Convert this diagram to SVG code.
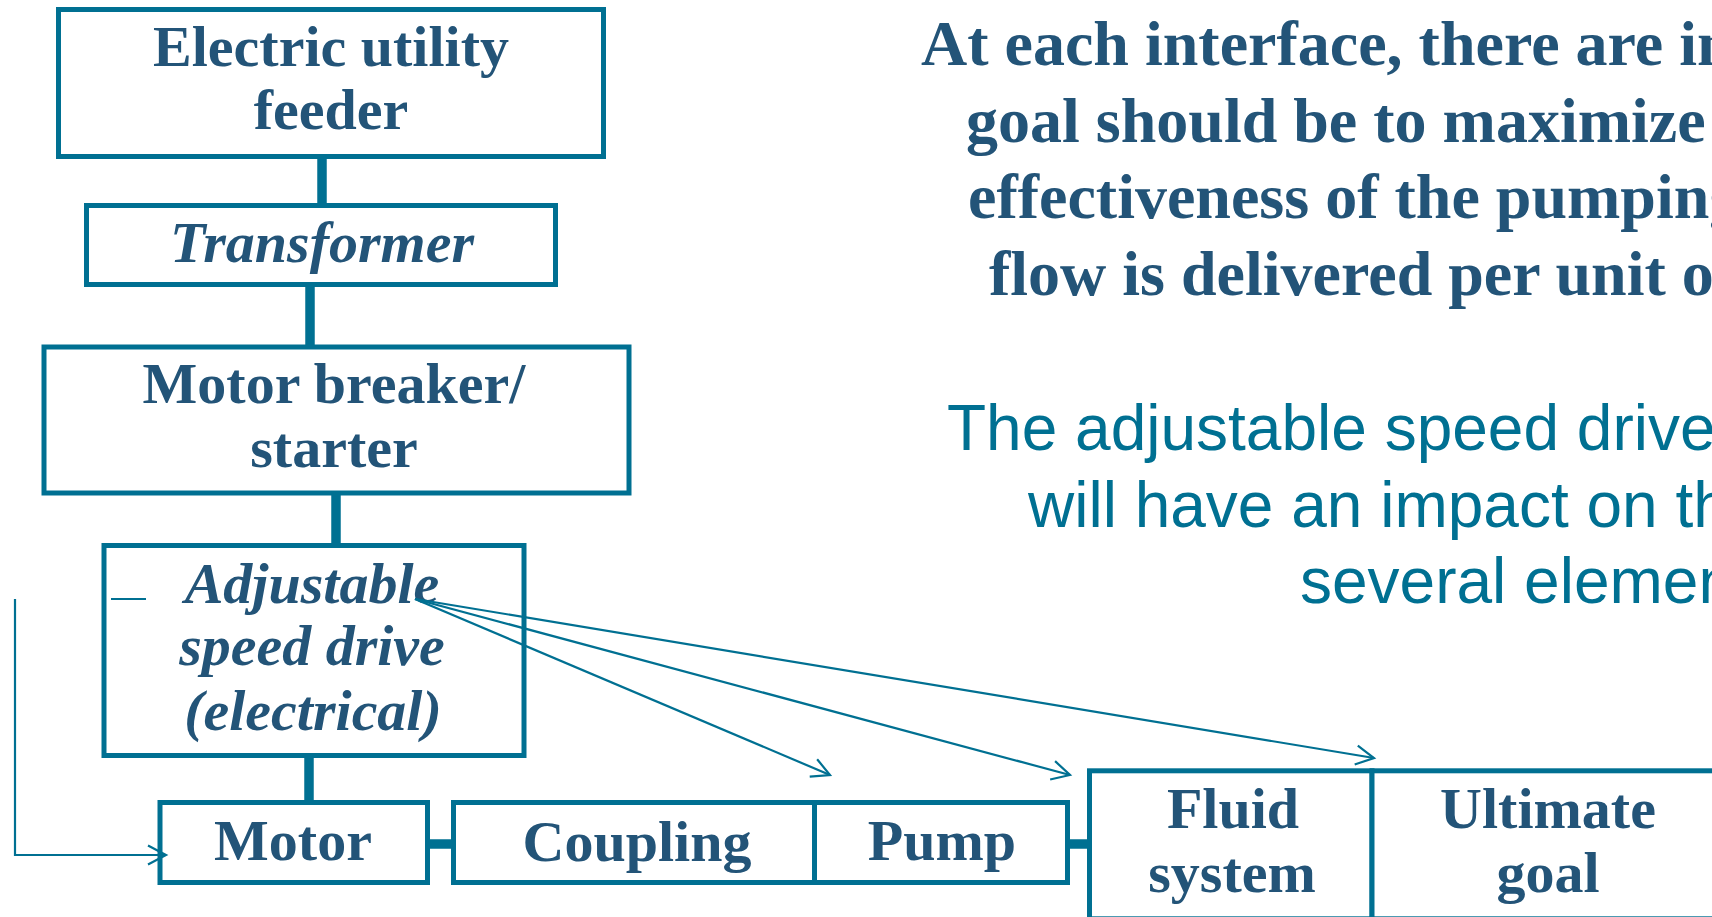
<svg xmlns="http://www.w3.org/2000/svg" width="1712" height="917" viewBox="0 0 1712 917">
  <style>
    .box { fill: #ffffff; stroke: #007092; stroke-width: 5; }
    .bar { stroke: #007092; stroke-width: 9.5; fill: none; }
    .thin { stroke: #007092; stroke-width: 2.2; fill: none; }
    .lbl { font-family: "Liberation Serif", "Times New Roman", serif; font-weight: bold; font-size: 58px; fill: #235478; text-anchor: middle; }
    .it { font-style: italic; }
    .note { font-family: "Liberation Serif", "Times New Roman", serif; font-weight: bold; font-size: 64px; fill: #235478; }
    .note2 { font-family: "Liberation Sans", Arial, sans-serif; font-size: 64px; fill: #007092; }
  </style>
  <defs>
    <marker id="open-arrow" markerUnits="userSpaceOnUse" markerWidth="26" markerHeight="26" viewBox="-23 -13 26 26" refX="0" refY="0" orient="auto">
      <path d="M-18,-9.5 L0,0 L-18,9.5" fill="none" stroke="#007092" stroke-width="2.2"/>
    </marker>
  </defs>

  <rect width="1712" height="917" fill="#ffffff"/>

  <g id="node-feeder">
    <rect class="box" x="58.5" y="9.5" width="545" height="147"/>
    <text class="lbl" x="331" y="66">Electric utility</text>
    <text class="lbl" x="331" y="129">feeder</text>
  </g>

  <g id="node-transformer">
    <rect class="box" x="86.5" y="205.5" width="469" height="79"/>
    <text class="lbl it" x="322" y="262">Transformer</text>
  </g>

  <g id="node-breaker">
    <rect class="box" x="44" y="347" width="585" height="146"/>
    <text class="lbl" x="334" y="403">Motor breaker/</text>
    <text class="lbl" x="334" y="467">starter</text>
  </g>

  <g id="node-asd">
    <rect class="box" x="104" y="545.5" width="420" height="210"/>
    <text class="lbl it" x="312" y="603">Adjustable</text>
    <text class="lbl it" x="312" y="665">speed drive</text>
    <text class="lbl it" x="313" y="730">(electrical)</text>
  </g>

  <g id="node-motor">
    <rect class="box" x="160" y="802.5" width="267.5" height="80"/>
    <text class="lbl" x="293" y="860">Motor</text>
  </g>

  <g id="node-coupling">
    <rect class="box" x="453.5" y="802.5" width="361" height="80"/>
    <text class="lbl" x="637" y="861">Coupling</text>
  </g>

  <g id="node-pump">
    <rect class="box" x="814.5" y="802.5" width="253" height="80"/>
    <text class="lbl" x="942" y="860">Pump</text>
  </g>

  <g id="node-fluid">
    <rect class="box" x="1089.5" y="770.8" width="282.5" height="148"/>
    <text class="lbl" x="1233" y="828">Fluid</text>
    <text class="lbl" x="1232" y="892">system</text>
  </g>

  <g id="node-goal">
    <rect class="box" x="1372" y="770.8" width="400" height="148"/>
    <text class="lbl" x="1548" y="828">Ultimate</text>
    <text class="lbl" x="1548" y="892">goal</text>
  </g>

  <!-- links between the stages, drawn over the boxes -->
  <g id="connectors">
    <line class="bar" x1="322" y1="158" x2="322" y2="204"/>
    <line class="bar" x1="310" y1="286" x2="310" y2="345"/>
    <line class="bar" x1="336" y1="494" x2="336" y2="544"/>
    <line class="bar" x1="309" y1="757" x2="309" y2="801"/>
    <line class="bar" x1="429" y1="844" x2="452" y2="844"/>
    <line class="bar" x1="1069" y1="844" x2="1088" y2="844"/>
    <!-- influence arrows from the drive -->
    <line class="thin" x1="415" y1="599" x2="830" y2="775" marker-end="url(#open-arrow)"/>
    <line class="thin" x1="415" y1="599" x2="1070" y2="775" marker-end="url(#open-arrow)"/>
    <line class="thin" x1="415" y1="599" x2="1374" y2="758" marker-end="url(#open-arrow)"/>
    <!-- feedback path to the motor -->
    <polyline class="thin" points="15,599 15,855 166,855" marker-end="url(#open-arrow)"/>
    <line class="thin" x1="111" y1="599" x2="146" y2="599"/>
  </g>

  <g id="notes">
    <text class="note" x="921" y="65">At each interface, there are in</text>
    <text class="note" x="966" y="142">goal should be to maximize</text>
    <text class="note" x="968" y="218">effectiveness of the pumping</text>
    <text class="note" x="989" y="295">flow is delivered per unit o</text>
    <text class="note2" x="947" y="450">The adjustable speed drive</text>
    <text class="note2" x="1028" y="527">will have an impact on th</text>
    <text class="note2" x="1300" y="603">several elemen</text>
  </g>
</svg>
